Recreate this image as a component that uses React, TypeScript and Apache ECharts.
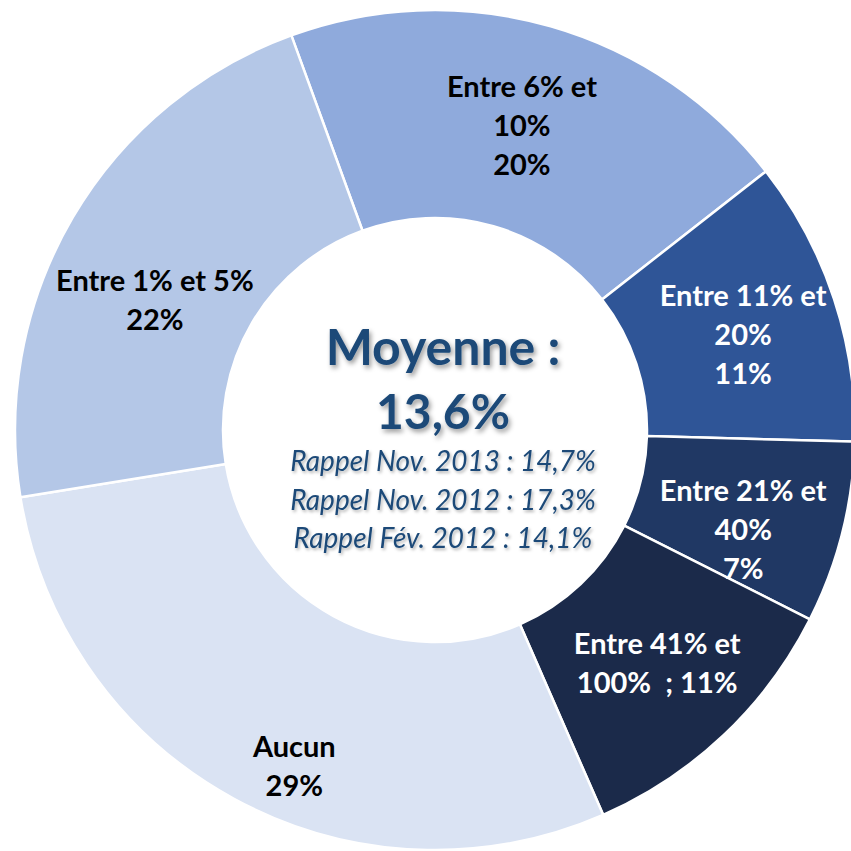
import React, { useEffect, useRef } from "react";
import * as echarts from "echarts";

// ---- data ----
const categories = [
  "Entre 6% et\n10%",
  "Entre 11% et\n20%",
  "Entre 21% et\n40%",
  "Entre 41% et\n100%",
  "Aucun",
  "Entre 1% et 5%",
];
const values = [20, 11, 7, 11, 29, 22];
const valueSeparators = ["\n", "\n", "\n", "  ; ", "\n", "\n"];
const centerTitle = ["Moyenne :", "13,6%"];
const reminders = [
  "Rappel Nov. 2013 : 14,7%",
  "Rappel Nov. 2012 : 17,3%",
  "Rappel Fév. 2012 : 14,1%",
];

// ---- styles ----
const sliceColors = ["#8faadc", "#2f5597", "#203864", "#1b2a4a", "#dae3f3", "#b4c7e7"];
const labelColors = ["#000000", "#ffffff", "#ffffff", "#ffffff", "#000000", "#000000"];
const labelOffsets = [
  [-1, 1],
  [5, 3],
  [-1, 20],
  [3, 0],
  [12, 55],
  [-5, 30],
];
const FONT = "Lato, 'Open Sans', 'DejaVu Sans', sans-serif";
const TEXT_BLUE = "#1d4a78";

export default function App() {
  const ref = useRef<HTMLDivElement>(null);
  useEffect(() => {
    if (!ref.current) return;
    const chart = echarts.init(ref.current, undefined, { renderer: "svg" });
    const shadow = {
      textShadowColor: "rgba(0,0,0,0.4)",
      textShadowBlur: 5,
      textShadowOffsetX: 2,
      textShadowOffsetY: 3,
    };
    const cx = 443;
    chart.setOption({
      animation: false,
      backgroundColor: "#ffffff",
      series: [
        {
          type: "pie",
          silent: true,
          center: [435, 430],
          radius: [212, 420],
          startAngle: 110,
          clockwise: true,
          avoidLabelOverlap: false,
          emphasis: { disabled: true },
          itemStyle: { borderColor: "#ffffff", borderWidth: 2.5 },
          label: {
            show: true,
            position: "inside",
            fontFamily: FONT,
            fontWeight: "bold",
            fontSize: 29,
            lineHeight: 39,
            align: "center",
            formatter: (p: any) =>
              `${p.name}${valueSeparators[p.dataIndex]}${p.value}%`,
          },
          labelLine: { show: false },
          labelLayout: (p: any) => ({
            dx: labelOffsets[p.dataIndex][0],
            dy: labelOffsets[p.dataIndex][1],
          }),
          data: categories.map((name, i) => ({
            name,
            value: values[i],
            itemStyle: { color: sliceColors[i] },
            label: { color: labelColors[i] },
          })),
        },
      ],
      graphic: [
        {
          type: "text",
          silent: true,
          style: {
            text: centerTitle[0],
            x: cx,
            y: 346,
            textAlign: "center",
            textVerticalAlign: "middle",
            fontFamily: FONT,
            fontWeight: "bold",
            fontSize: 50,
            fill: TEXT_BLUE,
            ...shadow,
          },
        },
        {
          type: "text",
          silent: true,
          style: {
            text: centerTitle[1],
            x: cx,
            y: 410,
            textAlign: "center",
            textVerticalAlign: "middle",
            fontFamily: FONT,
            fontWeight: "bold",
            fontSize: 48,
            fill: TEXT_BLUE,
            ...shadow,
          },
        },
        ...reminders.map((t, i) => ({
          type: "text",
          silent: true,
          style: {
            text: t,
            x: cx,
            y: 460 + i * 38.5,
            textAlign: "center",
            textVerticalAlign: "middle",
            fontFamily: FONT,
            fontStyle: "italic",
            fontSize: 28,
            fill: TEXT_BLUE,
            textShadowColor: "rgba(0,0,0,0.3)",
            textShadowBlur: 3,
            textShadowOffsetX: 1.5,
            textShadowOffsetY: 2,
          },
        })),
      ],
    });
    return () => chart.dispose();
  }, []);
  return (
    <div
      ref={ref}
      style={{ position: "absolute", left: 0, top: 0, width: 851, height: 851 }}
    />
  );
}
